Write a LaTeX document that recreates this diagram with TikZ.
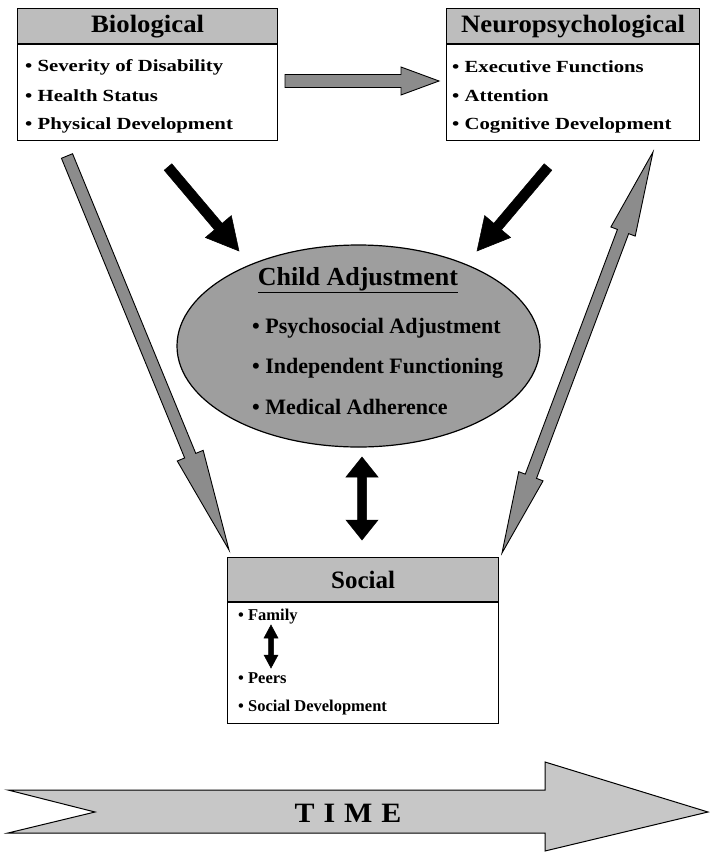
\documentclass[tikz,border=0pt]{standalone}
\usepackage{fontspec}
\setmainfont{Liberation Serif}
\newfontfamily\widefont[FakeStretch=1.22]{Liberation Serif}
\newfontfamily\headfont[FakeStretch=1.07]{Liberation Serif}
\usetikzlibrary{calc,shapes.geometric}

% single-headed fat arrow: #1 style, #2 start, #3 end, #4 shaft half width, #5 head half width, #6 head length
\newcommand{\onefat}[6]{%
  \coordinate (tmpP) at ($(#3)!#6!(#2)$);
  \draw[#1] ($(#2)!#4!90:(#3)$) -- ($(tmpP)!#4!90:(#3)$) -- ($(tmpP)!#5!90:(#3)$) -- (#3)
    -- ($(tmpP)!#5!-90:(#3)$) -- ($(tmpP)!#4!-90:(#3)$) -- ($(#2)!#4!-90:(#3)$) -- cycle;
}
% double-headed fat arrow: #1 style, #2 A, #3 B, #4 shaft half, #5 head half, #6 head length at B, #7 head length at A
\newcommand{\twofat}[7]{%
  \coordinate (tmpP) at ($(#3)!#6!(#2)$);
  \coordinate (tmpQ) at ($(#2)!#7!(#3)$);
  \draw[#1] (#2) -- ($(tmpQ)!#5!90:(#3)$) -- ($(tmpQ)!#4!90:(#3)$) -- ($(tmpP)!#4!90:(#3)$)
    -- ($(tmpP)!#5!90:(#3)$) -- (#3) -- ($(tmpP)!#5!-90:(#3)$) -- ($(tmpP)!#4!-90:(#3)$)
    -- ($(tmpQ)!#4!-90:(#3)$) -- ($(tmpQ)!#5!-90:(#3)$) -- cycle;
}

\begin{document}
\begin{tikzpicture}[x=1pt,y=-1pt,
  headbox/.style={draw, line width=1.2pt, fill=black!26, anchor=north west, inner sep=0pt,
    font=\headfont\fontsize{25}{27}\selectfont\bfseries},
  bodybox/.style={draw, line width=1.2pt, fill=white, anchor=north west, inner sep=0pt},
  item/.style={anchor=west, inner sep=0pt, font=\widefont\fontsize{17}{19}\selectfont\bfseries},
  socitem/.style={anchor=west, inner sep=0pt, font=\fontsize{16.5}{18}\selectfont\bfseries},
  bigitem/.style={anchor=west, inner sep=0pt, font=\fontsize{22}{24}\selectfont\bfseries},
  grayarrow/.style={draw=black, line width=0.9pt, fill=black!45, line join=miter},
  blackarrow/.style={draw=black, line width=0.5pt, fill=black, line join=miter},
  timearrow/.style={draw=black, line width=1pt, fill=black!22, line join=miter}
]
\useasboundingbox (0,0) rectangle (712,852);

% ---------- Biological ----------
\node[bodybox, minimum width=260pt, minimum height=104pt] (bioB) at (17,36) {};
\node[headbox, minimum width=260pt, minimum height=35pt] (bioH) at (17,8) {Biological};
\draw[line width=2pt] (bioH.south west) -- (bioH.south east);
\node[item] (bio1) at (25,67) {\textbullet\ Severity of Disability};
\node[item] (bio2) at (25,96) {\textbullet\ Health Status};
\node[item] (bio3) at (25,125) {\textbullet\ Physical Development};

% ---------- Neuropsychological ----------
\node[bodybox, minimum width=253pt, minimum height=104pt] (neuB) at (446,36) {};
\node[headbox, minimum width=253pt, minimum height=35pt] (neuH) at (446,8) {Neuropsychological};
\draw[line width=2pt] (neuH.south west) -- (neuH.south east);
\node[item] (neu1) at (452,67) {\textbullet\ Executive Functions};
\node[item] (neu2) at (452,96) {\textbullet\ Attention};
\node[item] (neu3) at (452,125) {\textbullet\ Cognitive Development};

% ---------- Child adjustment ----------
\node[ellipse, draw, line width=1.2pt, fill=black!38, minimum width=363pt, minimum height=202pt, inner sep=0pt] (child) at (358.5,346) {};
\node[inner sep=0pt, font=\fontsize{26}{28}\selectfont\bfseries] (childT) at (358,280) {\underline{Child Adjustment}};
\node[bigitem] (ch1) at (252,328) {\textbullet\ Psychosocial Adjustment};
\node[bigitem] (ch2) at (252,368) {\textbullet\ Independent Functioning};
\node[bigitem] (ch3) at (252,407) {\textbullet\ Medical Adherence};

% ---------- Social ----------
\node[bodybox, minimum width=271pt, minimum height=130pt] (socB) at (227,593) {};
\node[headbox, font=\fontsize{25}{27}\selectfont\bfseries, minimum width=271pt, minimum height=44pt] (socH) at (227,557) {Social};
\draw[line width=2pt] (socH.south west) -- (socH.south east);
\node[socitem] (soc1) at (238,617) {\textbullet\ Family};
\node[socitem] (soc2) at (238,678) {\textbullet\ Peers};
\node[socitem] (soc3) at (238,708) {\textbullet\ Social Development};

% ---------- connector end points ----------
\coordinate (hA) at (285,81);   \coordinate (hB) at (439,81);
\coordinate (lbA) at (168,167); \coordinate (lbB) at (239,251);
\coordinate (rbA) at (548,167); \coordinate (rbB) at (477,251);
\coordinate (lgA) at (67,156);  \coordinate (lgB) at (229,550);
\coordinate (rgA) at (502,553); \coordinate (rgB) at (653,152);
\coordinate (vA) at (362,457);  \coordinate (vB) at (362,540);
\coordinate (fA) at (271,625);  \coordinate (fB) at (271,668);

% ---------- arrows ----------
\onefat{grayarrow}{hA}{hB}{6.5pt}{14pt}{38pt}
\onefat{blackarrow}{lbA}{lbB}{5pt}{17pt}{32pt}
\onefat{blackarrow}{rbA}{rbB}{5pt}{17pt}{32pt}
\onefat{grayarrow}{lgA}{lgB}{6pt}{14pt}{102pt}
\twofat{grayarrow}{rgA}{rgB}{6pt}{13pt}{85pt}{82pt}
\twofat{blackarrow}{vA}{vB}{4.5pt}{16pt}{20pt}{20pt}
\twofat{blackarrow}{fA}{fB}{2.5pt}{7pt}{13pt}{13pt}

% ---------- TIME ----------
\coordinate (t1) at (8,790);  \coordinate (t2) at (545,790); \coordinate (t3) at (545,762);
\coordinate (t4) at (708,812); \coordinate (t5) at (545,851); \coordinate (t6) at (545,833);
\coordinate (t7) at (8,833);  \coordinate (t8) at (95,812);
\draw[timearrow] (t1) -- (t2) -- (t3) -- (t4) -- (t5) -- (t6) -- (t7) -- (t8) -- cycle;
\node[inner sep=0pt, font=\headfont\fontsize{28}{30}\selectfont\bfseries] (time) at (348,813) {T\hspace{9pt}I\hspace{9pt}M\hspace{9pt}E};
\end{tikzpicture}
\end{document}
